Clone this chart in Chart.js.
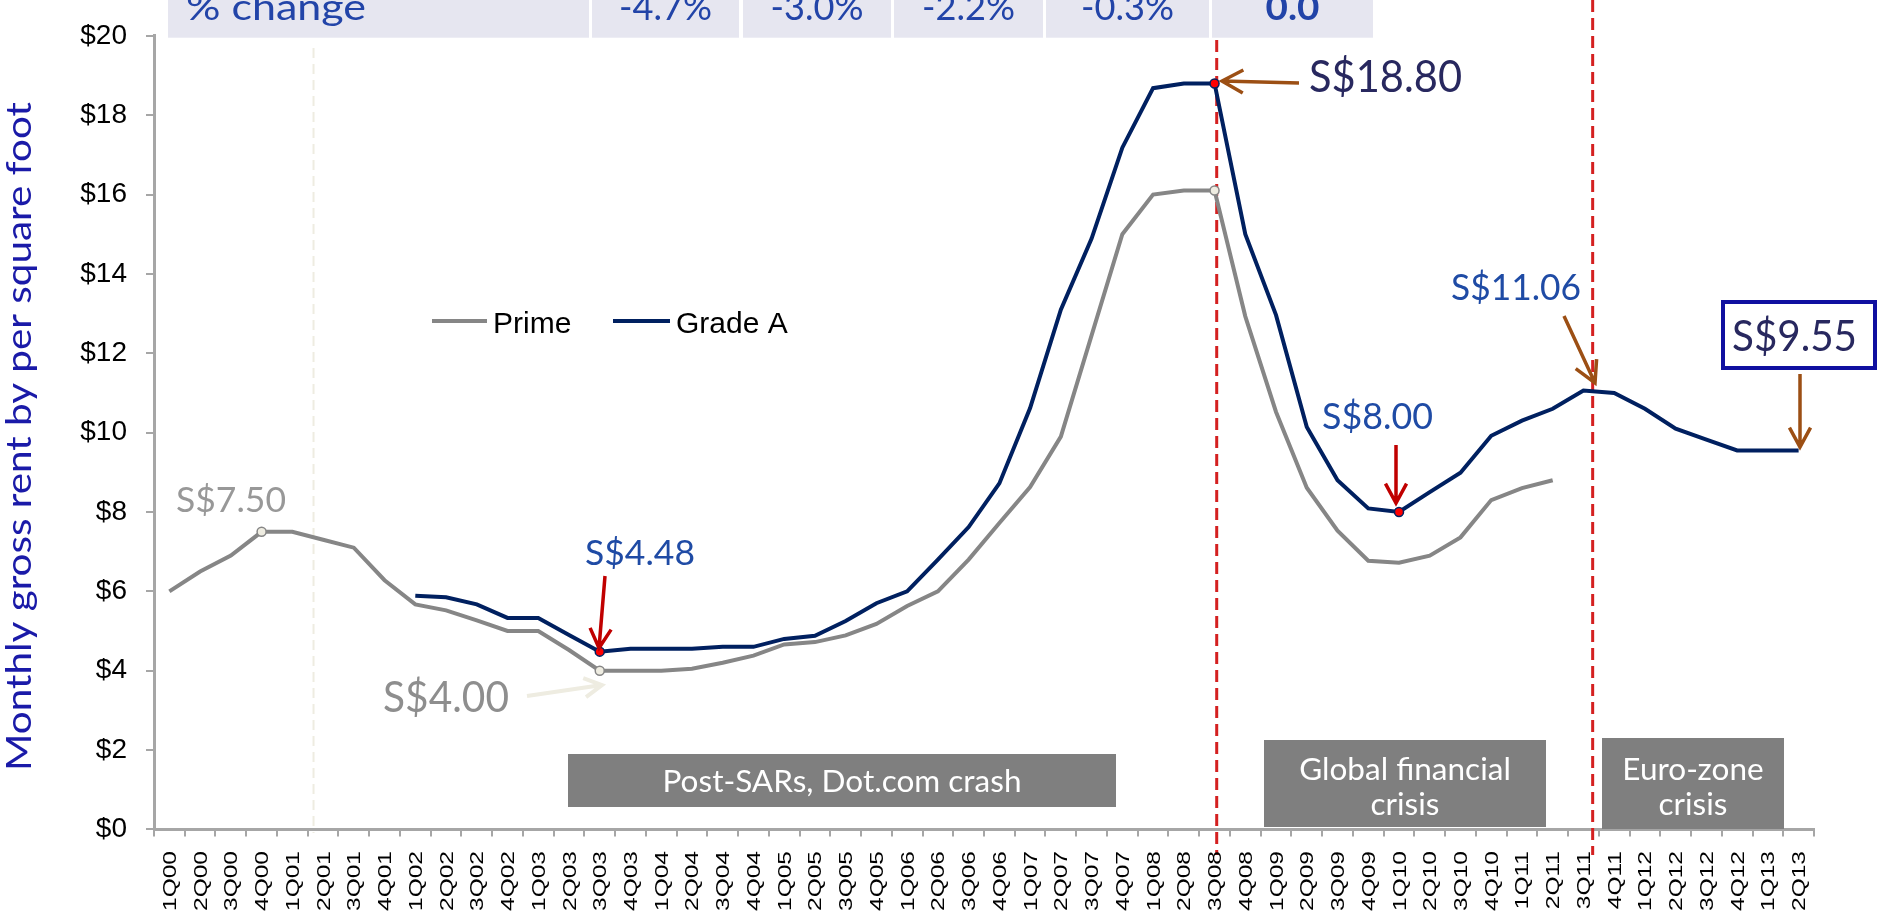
<!DOCTYPE html>
<html>
<head>
<meta charset="utf-8">
<script src="https://cdn.jsdelivr.net/npm/chart.js@4.4.1/dist/chart.umd.min.js"></script>
<style>
  html, body { margin: 0; padding: 0; background: #fff; overflow: hidden; }
</style>
</head>
<body>
<canvas id="rents" width="1883" height="916"></canvas>
<script>
// quarterly office rents, S$ per sq ft per month
const quarters = [
  '1Q00','2Q00','3Q00','4Q00','1Q01','2Q01','3Q01','4Q01','1Q02','2Q02','3Q02','4Q02',
  '1Q03','2Q03','3Q03','4Q03','1Q04','2Q04','3Q04','4Q04','1Q05','2Q05','3Q05','4Q05',
  '1Q06','2Q06','3Q06','4Q06','1Q07','2Q07','3Q07','4Q07','1Q08','2Q08','3Q08','4Q08',
  '1Q09','2Q09','3Q09','4Q09','1Q10','2Q10','3Q10','4Q10','1Q11','2Q11','3Q11','4Q11',
  '1Q12','2Q12','3Q12','4Q12','1Q13','2Q13'
];

const prime = [
  6.0, 6.5, 6.9, 7.5, 7.5, 7.3, 7.1, 6.28, 5.67, 5.52, 5.27, 5.0,
  5.0, 4.52, 4.0, 4.0, 4.0, 4.05, 4.2, 4.38, 4.66, 4.72, 4.89, 5.18,
  5.63, 6.0, 6.8, 7.72, 8.63, 9.9, 12.45, 15.0, 16.0, 16.1, 16.1, 12.93,
  10.52, 8.61, 7.53, 6.77, 6.72, 6.9, 7.36, 8.3, 8.6, 8.8, null, null,
  null, null, null, null, null, null
];

const gradeA = [
  null, null, null, null, null, null, null, null, 5.89, 5.85, 5.67, 5.33,
  5.33, 4.9, 4.48, 4.55, 4.55, 4.55, 4.6, 4.6, 4.8, 4.88, 5.25, 5.7,
  6.0, 6.8, 7.62, 8.72, 10.62, 13.1, 14.89, 17.18, 18.68, 18.8, 18.8, 15.0,
  12.96, 10.14, 8.8, 8.09, 8.0, 8.5, 8.99, 9.92, 10.3, 10.6, 11.06, 11.0,
  10.6, 10.1, 9.82, 9.55, 9.55, 9.55
];

const changeHeader = '% change';
const changeValues = ['-4.7%', '-3.0%', '-2.2%', '-0.3%', '0.0'];

const primeMarked = [3, 14, 34];
const gradeMarked = [14, 34, 40];

const NARROW = "Lato, 'DejaVu Sans Condensed', 'Liberation Sans', sans-serif";
const ARIAL = "'Liberation Sans', Arial, sans-serif";

function markRadius(list, n) {
  return quarters.map((q, i) => list.includes(i) ? n : 0);
}

// draw text squeezed/stretched to a given width (x = left edge, y = baseline)
function fitText(ctx, text, x, y, w, size, color, bold) {
  ctx.save();
  ctx.font = (bold ? 'bold ' : '') + size + 'px ' + NARROW;
  const m = ctx.measureText(text).width;
  ctx.translate(x, y);
  ctx.scale(w / m, 1);
  ctx.fillStyle = color;
  ctx.textAlign = 'left';
  ctx.textBaseline = 'alphabetic';
  ctx.fillText(text, 0, 0);
  ctx.restore();
}

function arrow(ctx, x1, y1, x2, y2, color, width, head) {
  const a = Math.atan2(y2 - y1, x2 - x1);
  ctx.save();
  ctx.strokeStyle = color;
  ctx.lineWidth = width;
  ctx.lineCap = 'butt';
  ctx.beginPath();
  ctx.moveTo(x1, y1);
  ctx.lineTo(x2, y2);
  ctx.moveTo(x2 - head * Math.cos(a - 0.5), y2 - head * Math.sin(a - 0.5));
  ctx.lineTo(x2, y2);
  ctx.lineTo(x2 - head * Math.cos(a + 0.5), y2 - head * Math.sin(a + 0.5));
  ctx.stroke();
  ctx.restore();
}

function vline(ctx, x, top, bottom, color, width, dash) {
  ctx.save();
  ctx.strokeStyle = color;
  ctx.lineWidth = width;
  ctx.setLineDash(dash);
  ctx.beginPath();
  ctx.moveTo(x, top);
  ctx.lineTo(x, bottom);
  ctx.stroke();
  ctx.restore();
}

const decor = {
  id: 'decor',
  beforeDatasetsDraw(chart) {
    const ctx = chart.ctx;
    const xs = chart.scales.x;
    const step = xs.getPixelForValue(1) - xs.getPixelForValue(0);
    const at = v => xs.getPixelForValue(0) + v * step;
    vline(ctx, at(4.69), 48, 833, '#EEECE1', 2, [10, 6]);
    vline(ctx, at(34.07), 40, 855, '#D42020', 3, [12, 6]);
    vline(ctx, at(46.3), 0, 855, '#D42020', 3, [12, 6]);
  },
  afterDraw(chart) {
    const ctx = chart.ctx;
    const xs = chart.scales.x;

    // x labels, rotated and drawn a bit taller than the font
    ctx.save();
    ctx.font = '18px ' + ARIAL;
    const stretch = 60 / ctx.measureText('1Q00').width;
    quarters.forEach((q, i) => {
      const x = xs.getPixelForValue(i);
      ctx.save();
      ctx.translate(x + 6.5, 851);
      ctx.rotate(-Math.PI / 2);
      ctx.scale(stretch, 1);
      ctx.fillStyle = '#000';
      ctx.textAlign = 'right';
      ctx.textBaseline = 'alphabetic';
      ctx.fillText(q, 0, 0);
      ctx.restore();
    });
    ctx.restore();

    // y axis title
    ctx.save();
    ctx.translate(31, 436.5);
    ctx.rotate(-Math.PI / 2);
    fitText(ctx, 'Monthly gross rent by per square foot', -334.5, 0, 669, 34, '#1A1AA8');
    ctx.restore();

    // % change strip
    const cells = [[168, 589], [592, 739], [743, 891], [894, 1043], [1046, 1209], [1212, 1373]];
    ctx.fillStyle = '#E6E6F0';
    cells.forEach(c => ctx.fillRect(c[0], 0, c[1] - c[0], 37.7));
    fitText(ctx, changeHeader, 186, 20, 180, 36, '#2244A8');
    const widths = [93, 93, 93, 93, 54];
    changeValues.forEach((v, i) => {
      const c = cells[i + 1];
      const mid = (c[0] + c[1]) / 2;
      fitText(ctx, v, mid - widths[i] / 2, 20, widths[i], 36, '#2244A8', i === 4);
    });

    // legend
    ctx.save();
    ctx.lineWidth = 4;
    ctx.strokeStyle = '#868686';
    ctx.beginPath(); ctx.moveTo(432, 321); ctx.lineTo(487, 321); ctx.stroke();
    ctx.strokeStyle = '#002060';
    ctx.beginPath(); ctx.moveTo(613, 321); ctx.lineTo(670, 321); ctx.stroke();
    ctx.font = '30px ' + ARIAL;
    ctx.fillStyle = '#000';
    ctx.textBaseline = 'alphabetic';
    ctx.fillText('Prime', 493, 333);
    ctx.fillText('Grade A', 676, 333);
    ctx.restore();

    // price call-outs
    fitText(ctx, 'S$7.50', 176, 512, 110, 35, '#989898');
    fitText(ctx, 'S$4.48', 585, 565, 110, 35, '#1F4BA5');
    fitText(ctx, 'S$4.00', 383, 712, 126, 42, '#8E8E8E');
    fitText(ctx, 'S$18.80', 1309, 92, 153, 44, '#28285F');
    fitText(ctx, 'S$8.00', 1322, 429, 111, 37, '#1F4BA5');
    fitText(ctx, 'S$11.06', 1451, 300, 130, 36, '#1F4BA5');

    ctx.save();
    ctx.strokeStyle = '#1010A0';
    ctx.lineWidth = 4;
    ctx.strokeRect(1723, 302, 152, 66);
    ctx.restore();
    fitText(ctx, 'S$9.55', 1732, 351, 125, 42, '#28285F');

    arrow(ctx, 605, 576, 599, 648, '#C00000', 3.5, 22);
    arrow(ctx, 527, 696, 602, 685, '#EEECE1', 4, 20);
    arrow(ctx, 1299, 83, 1222, 81, '#9C4F14', 3.5, 24);
    arrow(ctx, 1396, 445, 1396, 503, '#C00000', 3.5, 22);
    arrow(ctx, 1564, 316, 1595, 383, '#9C4F14', 3.5, 24);
    arrow(ctx, 1800, 374, 1800, 447, '#9C4F14', 3.5, 22);

    // period boxes
    ctx.fillStyle = '#7F7F7F';
    ctx.fillRect(568, 754, 548, 53);
    ctx.fillRect(1264, 740, 282, 87);
    ctx.fillRect(1602, 738, 182, 91);
    ctx.save();
    ctx.font = '31px ' + NARROW;
    const k = 359 / ctx.measureText('Post-SARs, Dot.com crash').width;
    ctx.restore();
    const boxText = (t, cx, y) => {
      ctx.save();
      ctx.font = '31px ' + NARROW;
      const w = ctx.measureText(t).width * k;
      ctx.restore();
      fitText(ctx, t, cx - w / 2, y, w, 31, '#FFFFFF');
    };
    boxText('Post-SARs, Dot.com crash', 842, 792);
    boxText('Global financial', 1405, 780);
    boxText('crisis', 1405, 815);
    boxText('Euro-zone', 1693, 780);
    boxText('crisis', 1693, 815);
  }
};

new Chart(document.getElementById('rents'), {
  type: 'line',
  data: {
    labels: quarters,
    datasets: [
      {
        label: 'Prime',
        data: prime,
        borderColor: '#868686',
        borderWidth: 4,
        pointRadius: markRadius(primeMarked, 4.5),
        pointBackgroundColor: '#EEECE1',
        pointBorderColor: '#868686',
        pointBorderWidth: 1.5,
        tension: 0,
        spanGaps: false
      },
      {
        label: 'Grade A',
        data: gradeA,
        borderColor: '#002060',
        borderWidth: 4,
        pointRadius: markRadius(gradeMarked, 4.5),
        pointBackgroundColor: '#FF0000',
        pointBorderColor: '#002060',
        pointBorderWidth: 1.5,
        tension: 0,
        spanGaps: false
      }
    ]
  },
  options: {
    responsive: false,
    animation: false,
    devicePixelRatio: 1,
    layout: { padding: { top: 27, right: 69, left: 0, bottom: 0 } },
    plugins: {
      legend: { display: false },
      tooltip: { enabled: false }
    },
    scales: {
      x: {
        offset: true,
        grid: { offset: true, drawOnChartArea: false, tickLength: 7, color: '#A6A6A6', lineWidth: 2 },
        border: { color: '#A6A6A6', width: 3 },
        ticks: { display: false },
        afterFit: s => { s.height = 86.6; }
      },
      y: {
        min: 0,
        max: 20,
        ticks: {
          stepSize: 2,
          callback: v => '$' + v,
          font: { family: ARIAL, size: 28 },
          color: '#000',
          padding: 19
        },
        grid: { drawOnChartArea: false, tickLength: 8, color: '#A6A6A6', lineWidth: 2 },
        border: { color: '#A6A6A6', width: 3 },
        afterFit: s => { s.width = 154; }
      }
    }
  },
  plugins: [decor]
});
</script>
</body>
</html>
